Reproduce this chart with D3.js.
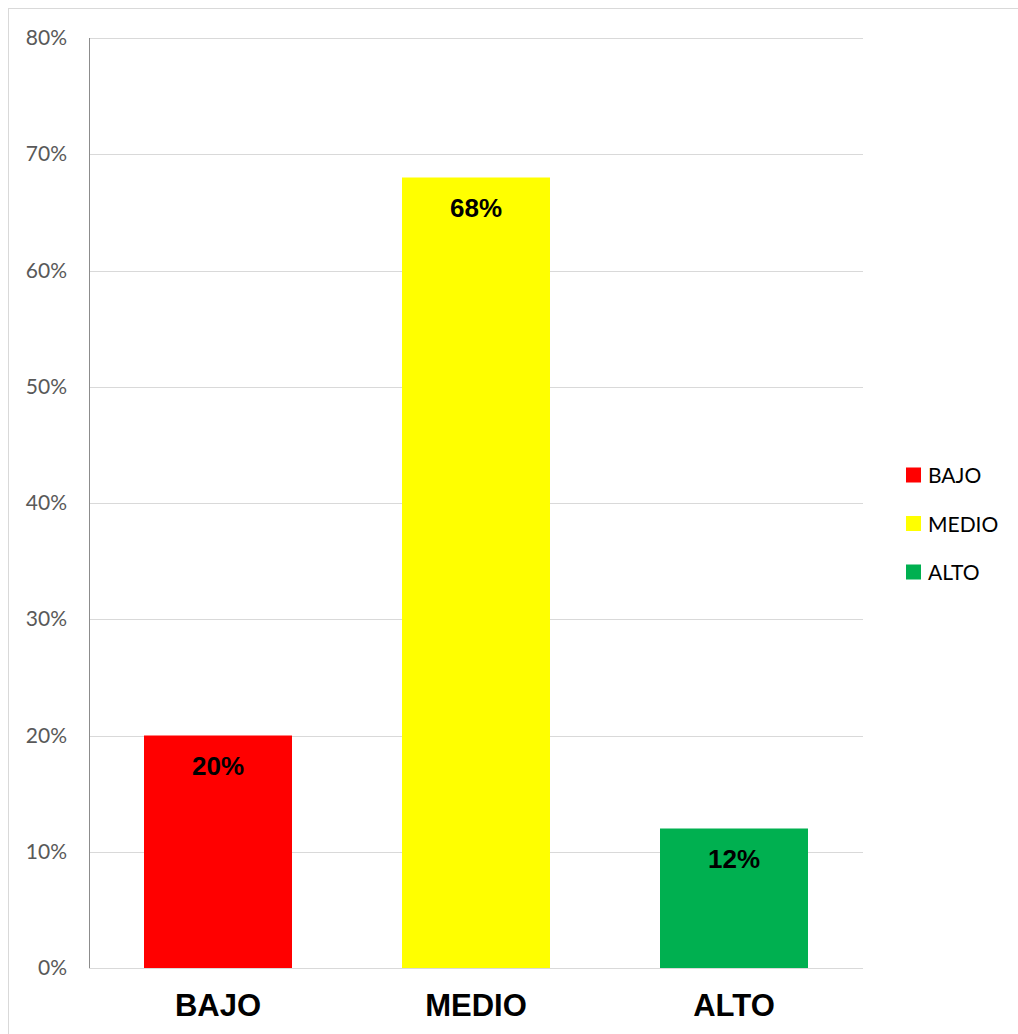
<!DOCTYPE html>
<html><head><meta charset="utf-8">
<script src="https://cdn.jsdelivr.net/npm/d3@7"></script>
<style>body{margin:0;background:#fff}</style>
</head><body>
<svg id="c" width="1018" height="1034"></svg>
<script>
const categories = ["BAJO", "MEDIO", "ALTO"];
const values = [0.20, 0.68, 0.12];
const valueLabels = ["20%", "68%", "12%"];
const colors = ["#FF0000", "#FFFF00", "#00B050"];
const yTicks = [0, 0.1, 0.2, 0.3, 0.4, 0.5, 0.6, 0.7, 0.8];

const svg = d3.select("#c");
// chart area border
svg.append("rect").attr("x", 8.5).attr("y", 8.5).attr("width", 1030).attr("height", 1050)
  .attr("fill", "#fff").attr("stroke", "#d9d9d9").attr("stroke-width", 1);

const pLeft = 89, pRight = 863, pTop = 38, pBottom = 968;
const x = d3.scaleBand().domain(categories).range([pLeft, pRight])
  .paddingInner(0.4264).paddingOuter(0.2132);
const y = d3.scaleLinear().domain([0, 0.8]).range([pBottom, pTop]);

// gridlines
svg.append("g").selectAll("line").data(yTicks).join("line")
  .attr("x1", pLeft).attr("x2", pRight)
  .attr("y1", d => Math.round(y(d)) + 0.5).attr("y2", d => Math.round(y(d)) + 0.5)
  .attr("stroke", "#d9d9d9").attr("stroke-width", 1);

// y axis labels
const yAxis = d3.axisLeft(y).tickValues(yTicks).tickFormat(d3.format(".0%")).tickSize(0).tickPadding(22);
const ga = svg.append("g").attr("transform", `translate(${pLeft},0)`).call(yAxis);
ga.select(".domain").remove();
ga.selectAll("text").attr("font-family", "Lato, 'Open Sans', sans-serif").attr("font-size", 21)
  .attr("fill", "#595959");

// bars
svg.append("g").selectAll("rect").data(categories).join("rect")
  .attr("x", d => x(d)).attr("width", x.bandwidth())
  .attr("y", (d, i) => y(values[i])).attr("height", (d, i) => y(0) - y(values[i]))
  .attr("fill", (d, i) => colors[i]);

// left axis line
svg.append("line").attr("x1", pLeft + 0.5).attr("x2", pLeft + 0.5).attr("y1", pTop).attr("y2", pBottom)
  .attr("stroke", "#8c8c8c").attr("stroke-width", 1);

// value labels
svg.append("g").selectAll("text").data(categories).join("text")
  .attr("x", d => x(d) + x.bandwidth() / 2)
  .attr("y", (d, i) => y(values[i]) + 39)
  .attr("text-anchor", "middle")
  .attr("font-family", "'Liberation Sans', Arial, sans-serif").attr("font-weight", "bold")
  .attr("font-size", 26).attr("fill", "#000")
  .text((d, i) => valueLabels[i]);

// category labels
svg.append("g").selectAll("text").data(categories).join("text")
  .attr("x", d => x(d) + x.bandwidth() / 2).attr("y", 1016)
  .attr("text-anchor", "middle")
  .attr("font-family", "'Liberation Sans', Arial, sans-serif").attr("font-weight", "bold")
  .attr("font-size", 31).attr("fill", "#000")
  .text(d => d);

// legend
const lg = svg.append("g").selectAll("g").data(categories).join("g")
  .attr("transform", (d, i) => `translate(906,${475 + i * 48.5})`);
lg.append("rect").attr("x", 0).attr("y", -7.5).attr("width", 15).attr("height", 15)
  .attr("fill", (d, i) => colors[i]);
lg.append("text").attr("x", 22).attr("y", 8)
  .attr("font-family", "Lato, 'Open Sans', sans-serif").attr("font-size", 21).attr("fill", "#000")
  .text(d => d);
</script>
</body></html>
